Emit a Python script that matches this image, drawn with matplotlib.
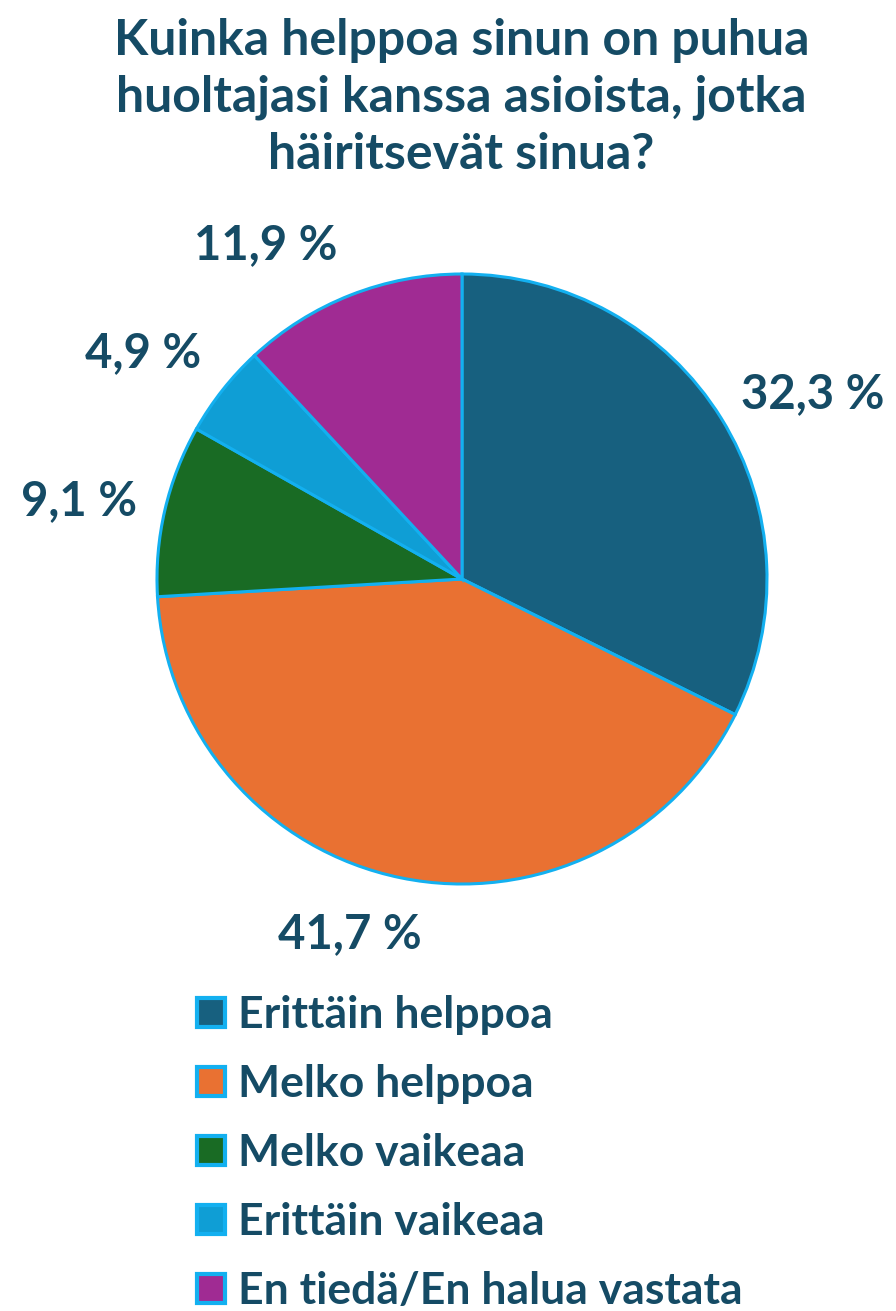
import numpy as np
import matplotlib
matplotlib.use("Agg")
import matplotlib.pyplot as plt

plt.rcParams['font.family'] = ['Lato', 'DejaVu Sans']

categories = ["Erittäin helppoa", "Melko helppoa", "Melko vaikeaa",
              "Erittäin vaikeaa", "En tiedä/En halua vastata"]
shares = [32.3, 41.7, 9.1, 4.9, 11.9]
colors = ["#17607F", "#E97132", "#196B24", "#0F9ED5", "#A02B93"]
title = "Kuinka helppoa sinun on puhua\nhuoltajasi kanssa asioista, jotka\nhäiritsevät sinua?"

text_color = "#154B65"
edge_color = "#13B0F0"

W, H = 896, 1311
fig = plt.figure(figsize=(W / 100, H / 100), dpi=100)

# pie centre and radius in pixels
cx, cy, r = 462, 579, 305
ax = fig.add_axes([(cx - r) / W, (H - cy - r) / H, 2 * r / W, 2 * r / H])

wedges, _ = ax.pie(shares, colors=colors, startangle=90, counterclock=False,
                   radius=1.0,
                   wedgeprops=dict(edgecolor=edge_color, linewidth=2.2))
ax.set_xlim(-1, 1)
ax.set_ylim(-1, 1)
ax.set_aspect('equal')
ax.axis('off')

# value labels outside each wedge
label_dist = [1.30, 1.22, 1.28, 1.28, 1.27]
label_shift = [-4, -6, 1.5, 3, 9]
for w, v, d, s in zip(wedges, shares, label_dist, label_shift):
    ang = np.deg2rad((w.theta1 + w.theta2) / 2 + s)
    ax.text(d * np.cos(ang), d * np.sin(ang), f"{v:.1f} %".replace(".", ","),
            ha='center', va='center', fontsize=34, fontweight='bold',
            color=text_color, clip_on=False)

fig.text(0.515, 1 - 18 / H, title, ha='center', va='top', fontsize=36,
         fontweight='bold', color=text_color, linespacing=1.32)

leg = fig.legend(wedges, categories, loc='upper left',
                 bbox_to_anchor=(175 / W, 1 - 973 / H), frameon=False,
                 fontsize=32, handlelength=0.62, handleheight=0.62,
                 handletextpad=0.3, labelspacing=0.65, borderpad=0)
for t in leg.get_texts():
    t.set_color(text_color)
    t.set_fontweight('bold')
for h in leg.legend_handles:
    h.set_linewidth(3)

fig.savefig("out.png", dpi=100)
